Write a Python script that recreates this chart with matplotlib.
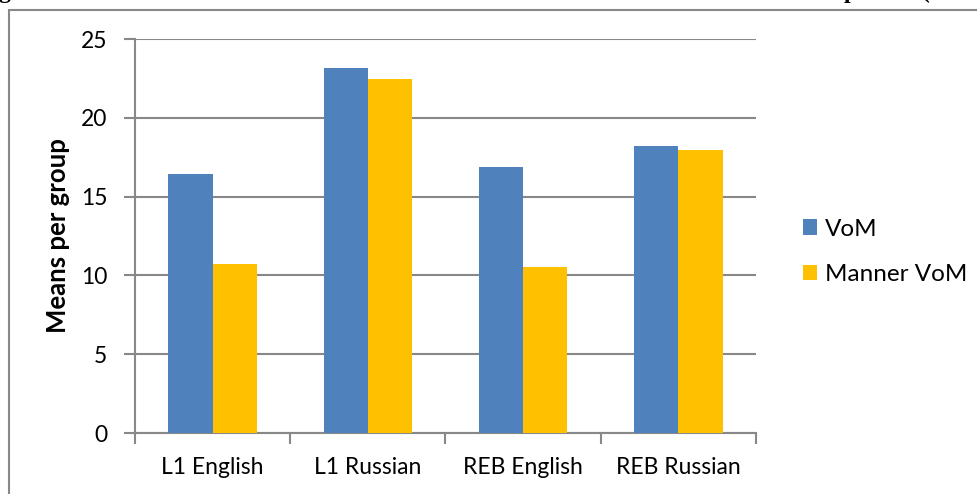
import matplotlib.pyplot as plt
import numpy as np
from matplotlib.patches import Rectangle

categories = ['L1 English', 'L1 Russian', 'REB English', 'REB Russian']
vom = [16.43, 23.18, 16.88, 18.19]
manner_vom = [10.72, 22.44, 10.53, 17.94]
series_names = ['VoM', 'Manner VoM']
colors = ['#4F81BD', '#FFC000']

plt.rcParams['font.family'] = ['Lato', 'DejaVu Sans']

fig = plt.figure(figsize=(9.78, 4.94), dpi=100)
fig.patch.set_facecolor('white')

# frame of the embedded chart (cut at right and bottom)
fig.patches.append(Rectangle((9 / 978, -0.1), 1.2, 1 - 10 / 494 + 0.1,
                             transform=fig.transFigure, fill=False,
                             edgecolor='#888888', linewidth=1.5))

# clipped caption line above the chart, only descenders visible
cap_y = 1.0 + 2 / 494
fig.text(-2 / 978, cap_y, 'g', family='Liberation Serif', fontweight='bold',
         fontsize=17, va='baseline', ha='left')
fig.text(844 / 978, cap_y, 'p', family='Liberation Serif', fontweight='bold',
         fontsize=17, va='baseline', ha='left')
fig.text(922 / 978, cap_y, '(', family='Liberation Serif', fontweight='bold',
         fontsize=17, va='baseline', ha='left')

ax = fig.add_axes([135 / 978, 1 - 433 / 494, (756 - 135) / 978, (433 - 39) / 494])

x = np.arange(len(categories))
w = 1 / 3.5
ax.bar(x - w / 2, vom, w, color=colors[0], label=series_names[0], zorder=3)
ax.bar(x + w / 2, manner_vom, w, color=colors[1], label=series_names[1], zorder=3)

ax.set_xlim(-0.5, len(categories) - 0.5)
ax.set_ylim(0, 25)
ax.set_yticks(range(0, 26, 5))
ax.yaxis.grid(True, color='#888888', linewidth=1.5, zorder=0)
ax.set_axisbelow(True)

ax.set_xticks(x)
ax.set_xticklabels(categories, fontsize=16.5)
ax.tick_params(axis='x', length=0, pad=17)
ax.set_xticks(np.arange(-0.5, len(categories), 1), minor=True)
ax.tick_params(axis='x', which='minor', length=8, width=1.5, color='#888888', direction='out')
ax.tick_params(axis='y', labelsize=16.5, length=8, width=1.5, color='#888888', pad=12)

for s in ['top', 'right']:
    ax.spines[s].set_visible(False)
for s in ['left', 'bottom']:
    ax.spines[s].set_color('#888888')
    ax.spines[s].set_linewidth(1.5)

ax.set_ylabel('Means per group', fontsize=18.5, fontweight='bold')
ax.yaxis.set_label_coords(-0.105, 0.5)

ax.legend(loc='center left', bbox_to_anchor=(1.04, 0.46), frameon=False, fontsize=17.5,
          handlelength=0.6, handleheight=0.6, handletextpad=0.3, labelspacing=1.0)

fig.savefig('out.png', dpi=100)
